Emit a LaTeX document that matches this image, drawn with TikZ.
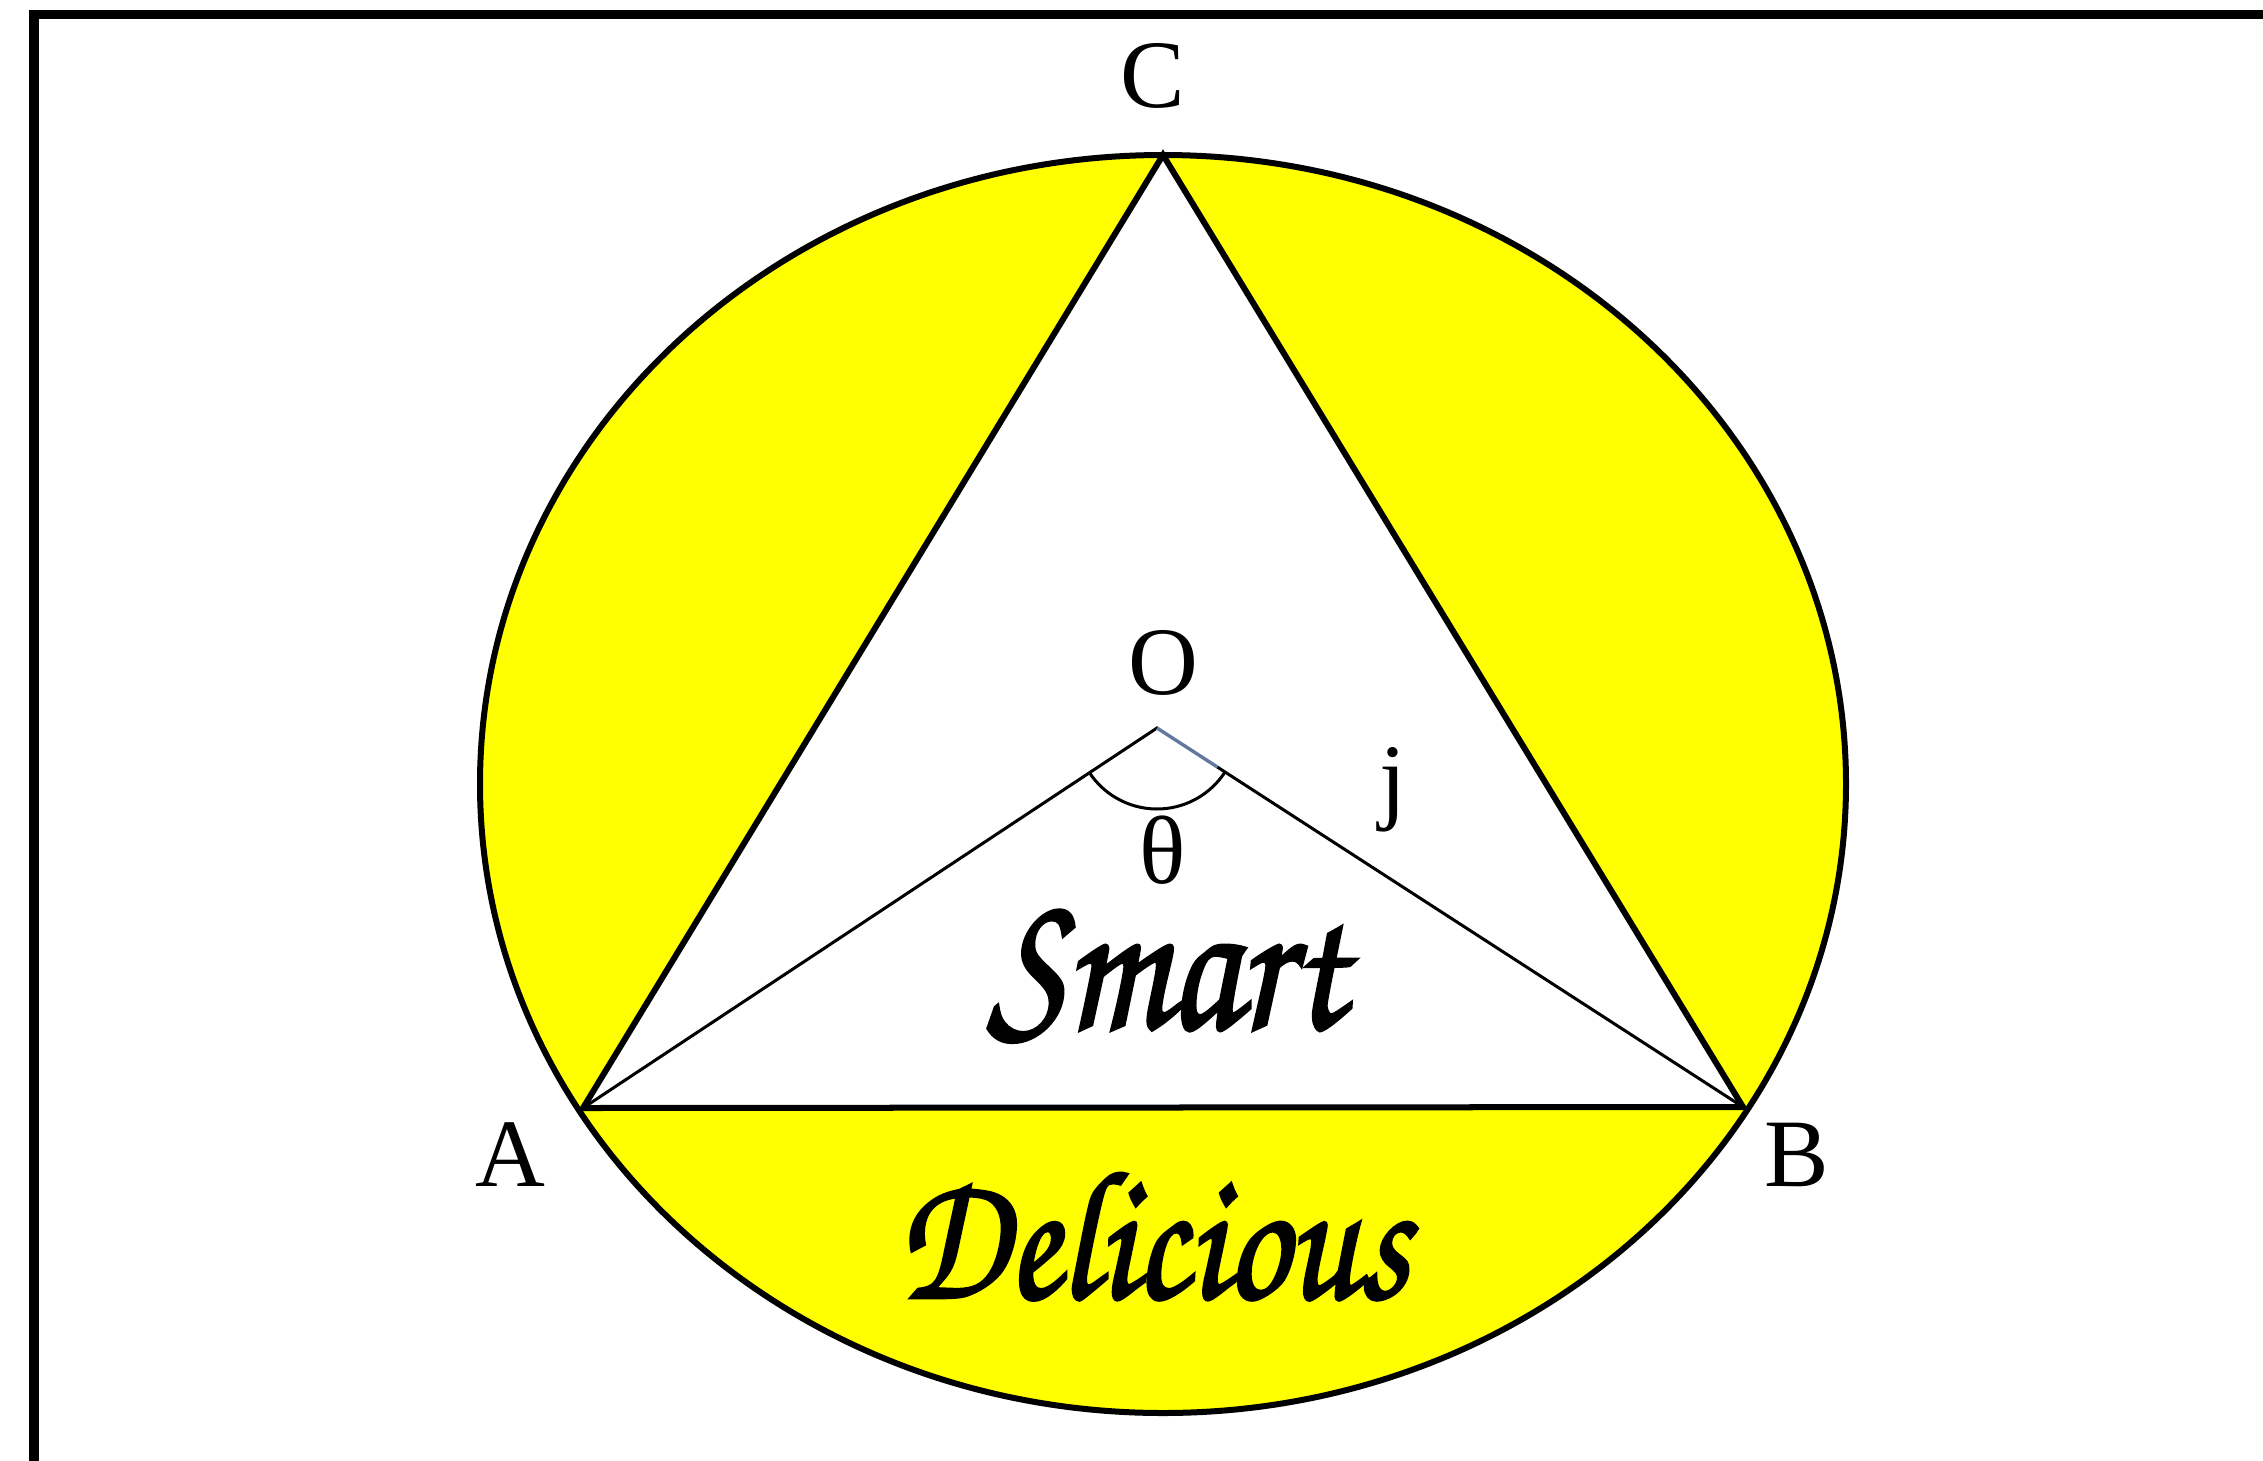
\documentclass[tikz,border=0pt]{standalone}
\usepackage{fontspec}
\setmainfont{Liberation Serif}
\newfontfamily\chorus{texgyrechorus-mediumitalic.otf}[AutoFakeBold=1.8]
\usetikzlibrary{calc}
\definecolor{fillyellow}{RGB}{255,255,0}
\definecolor{hiblue}{RGB}{140,170,225}
\tikzset{
  thickline/.style={line width=6pt*0.2845, line join=miter},
  thinline/.style={line width=3pt*0.2845},
  lbl/.style={font=\fontsize{27.5}{30}\selectfont, inner sep=0pt},
  scripttext/.style={inner sep=0pt, anchor=south}
}
\begin{document}
\begin{tikzpicture}[x=0.01cm, y=-0.01cm]
  \useasboundingbox (0,0) rectangle (2263,1460);
  % frame (runs off right and bottom)
  \draw[line width=9pt*0.2845] (34,1600) -- (34,14) -- (2400,14);
  % vertices
  \coordinate (Cc) at (1163,784);
  \coordinate (A) at (583,1108);
  \coordinate (B) at (1743,1107);
  \coordinate (C) at (1163,155);
  \coordinate (O) at (1157,728);
  % fills
  \fill[fillyellow] (Cc) ellipse [x radius=683, y radius=629];
  \fill[white] (A) -- (B) -- (C) -- cycle;
  % outlines
  \draw[thickline] (Cc) ellipse [x radius=683, y radius=629];
  \draw[thickline] (A) -- (B) -- (C) -- cycle;
  \draw[thinline] (A) -- (O) -- (B);
  % angle arc
  \draw[hiblue, line width=3.5pt*0.2845, opacity=0.7] (O) -- ($(O)!0.72cm!(B)$);
  \draw[thinline] ([shift={(146.5:81)}]O) arc[start angle=146.5, end angle=32.9, radius=81];
  % labels
  \node[lbl] (lC) at (1153,76) {C};
  \node[lbl] (lO) at (1163,663) {O};
  \node[lbl] (lA) at (510,1155) {A};
  \node[lbl] (lB) at (1797,1155) {B};
  \node[lbl] (lth) at (1163,850) {θ};
  \node[lbl, anchor=base] (lj) at (1393,811) {j};
  \node[scripttext] (smart) at (1166,1043) {\resizebox*{3.56cm}{1.32cm}{\chorus\bfseries Smart}};
  \node[scripttext] (delicious) at (1153,1301) {\resizebox*{5.11cm}{1.27cm}{\chorus\bfseries Delicious}};
\end{tikzpicture}
\end{document}
